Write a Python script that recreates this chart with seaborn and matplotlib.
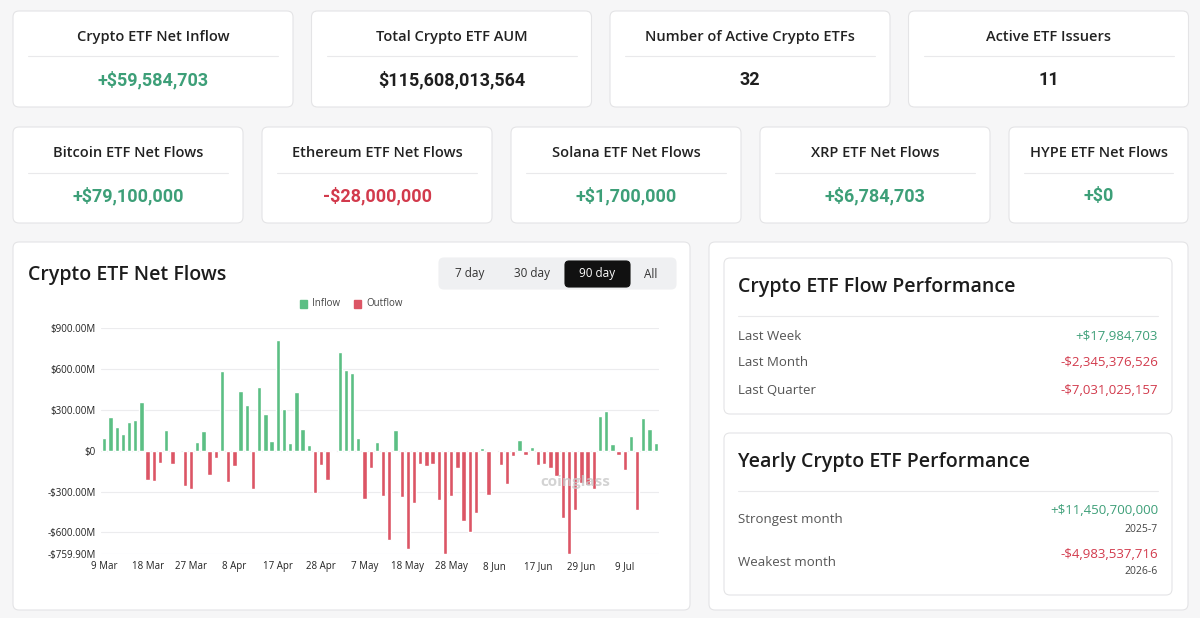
import pandas as pd
import seaborn as sns
import matplotlib.pyplot as plt
from matplotlib.patches import FancyBboxPatch

# daily crypto ETF net flows in $M, 90 trading days (9 Mar - 16 Jul)
net_flow = [94, 249, 169, 121, 211, 227, 356, -218, -225, -92,
            148, -99, 0, -261, -278, 63, 145, -179, -58, 586,
            -232, -111, 436, 336, -278, 469, 271, 68, 808, 307,
            53, 428, 155, 41, -310, -109, -218, -7, 719, 590,
            569, 90, -358, -128, 60, -334, -653, 148, -341, -721,
            -382, -97, -116, -97, -360, -755, -334, -128, -518, -594,
            -460, 22, -327, -7, -109, -244, -39, 81, -35, 23,
            -109, -97, -128, -189, -491, -759.9, -433, -240, -251, -278,
            254, 289, 47, -30, -145, 107, -436, 236, 156, 58]

holidays = ['2026-04-03', '2026-05-25', '2026-06-19', '2026-07-03']
trade_days = [d for d in pd.bdate_range('2026-03-09', '2026-07-16')
              if d.strftime('%Y-%m-%d') not in holidays]
day_labels = [f'{d.day} {d:%b}' for d in trade_days]

y_ticks = [900, 600, 300, 0, -300, -600, -759.9]
y_tick_labels = ['$900.00M', '$600.00M', '$300.00M', '$0',
                 '-$300.00M', '-$600.00M', '-$759.90M']

top_titles = ['Crypto ETF Net Inflow', 'Total Crypto ETF AUM',
              'Number of Active Crypto ETFs', 'Active ETF Issuers']
top_values = ['+$59,584,703', '$115,608,013,564', '32', '11']

asset_titles = ['Bitcoin ETF Net Flows', 'Ethereum ETF Net Flows', 'Solana ETF Net Flows',
                'XRP ETF Net Flows', 'HYPE ETF Net Flows']
asset_values = ['+$79,100,000', '-$28,000,000', '+$1,700,000', '+$6,784,703', '+$0']

period_labels = ['Last Week', 'Last Month', 'Last Quarter']
period_values = ['+$17,984,703', '-$2,345,376,526', '-$7,031,025,157']

yearly_labels = ['Strongest month', 'Weakest month']
yearly_values = ['+$11,450,700,000', '-$4,983,537,716']
yearly_months = ['2025-7', '2026-6']

range_buttons = ['7 day', '30 day', '90 day', 'All']

bar_green = '#5cbf84'
bar_red = '#dc5565'
txt_green = '#3d9f78'
txt_red = '#d23a4c'
dark = '#1f1f1f'


def value_color(s):
    if s.startswith('+'):
        return txt_green
    if s.startswith('-'):
        return txt_red
    return dark


sns.set_theme(style='white')
plt.rcParams['font.family'] = ['Open Sans', 'DejaVu Sans']

fig = plt.figure(figsize=(12, 6.18), dpi=100)
fig.patch.set_facecolor('#f6f6f7')

bg = fig.add_axes([0, 0, 1, 1])
bg.set_xlim(0, 1200)
bg.set_ylim(618, 0)
bg.axis('off')


def card(x0, y0, x1, y1, fc='white', ec='#e4e4e6', r=6, lw=0.8):
    bg.add_patch(FancyBboxPatch((x0, y0), x1 - x0, y1 - y0,
                                boxstyle=f'round,pad=0,rounding_size={r}',
                                fc=fc, ec=ec, lw=lw))


def divider(x0, x1, y):
    bg.plot([x0, x1], [y, y], color='#e9e9eb', lw=0.8)


num_font = ['Roboto', 'DejaVu Sans']

# top row of stat cards
top_w, gap = 280, 18.5
for k, (t, v) in enumerate(zip(top_titles, top_values)):
    x0 = 13 + k * (top_w + gap)
    x1 = x0 + top_w
    card(x0, 11, x1, 107)
    cx = (x0 + x1) / 2
    bg.text(cx, 37, t, ha='center', va='center', fontsize=10.5, color='#222',
            weight='semibold')
    divider(x0 + 15, x1 - 15, 56)
    bg.text(cx, 80, v, ha='center', va='center', fontsize=13, weight='bold',
            color=value_color(v), family=num_font)

# second row: per asset flows
asset_w, gap2 = 230, 19
for k, (t, v) in enumerate(zip(asset_titles, asset_values)):
    x0 = 13 + k * (asset_w + gap2)
    x1 = min(x0 + asset_w, 1188)
    card(x0, 127, x1, 223)
    cx = (x0 + x1) / 2
    bg.text(cx, 153, t, ha='center', va='center', fontsize=10.5, color='#222',
            weight='semibold')
    divider(x0 + 15, x1 - 15, 173)
    bg.text(cx, 196, v, ha='center', va='center', fontsize=13, weight='bold',
            color=value_color(v), family=num_font)

# chart card
card(13, 242, 690, 610)
bg.text(28, 275, 'Crypto ETF Net Flows', ha='left', va='center', fontsize=14,
        color='#1c1c1c', weight='semibold')
card(439, 258, 676, 289, fc='#eff0f2', ec='#eff0f2', r=5)
card(565, 261, 630, 287, fc='#111111', ec='#111111', r=4)
for t, x in zip(range_buttons, [470, 532, 597, 651]):
    bg.text(x, 274, t, ha='center', va='center', fontsize=8.5,
            color='white' if t == '90 day' else '#333')

# legend
bg.add_patch(plt.Rectangle((300, 300), 7, 8, color=bar_green))
bg.text(312, 304, 'Inflow', ha='left', va='center', fontsize=7, color='#444')
bg.add_patch(plt.Rectangle((354, 300), 7, 8, color=bar_red))
bg.text(366, 304, 'Outflow', ha='left', va='center', fontsize=7, color='#444')

# bar chart
df = pd.DataFrame({'day': day_labels, 'flow': net_flow})
df['kind'] = ['Outflow' if f < 0 else 'Inflow' for f in df['flow']]

ax = fig.add_axes([101.2 / 1200, 1 - 554.3 / 618, 557.6 / 1200, 226.6 / 618])
ax.patch.set_alpha(0)
sns.barplot(data=df, x='day', y='flow', hue='kind', order=day_labels,
            palette={'Inflow': bar_green, 'Outflow': bar_red},
            dodge=False, width=0.7, legend=False, ax=ax, saturation=1)
ax.set_xlim(-0.5, len(day_labels) - 0.5)
ax.set_ylim(-759.9, 900)
ax.set_yticks(y_ticks)
ax.set_yticklabels(y_tick_labels)
ax.set_xticks(range(0, len(day_labels), 7))
ax.set_xticklabels(day_labels[::7])
ax.set_xlabel('')
ax.set_ylabel('')
ax.yaxis.grid(True, color='#ececee', lw=0.8)
ax.set_axisbelow(True)
for s in ax.spines.values():
    s.set_visible(False)
ax.tick_params(axis='both', length=0, labelsize=7, colors='#222')
ax.tick_params(axis='y', pad=4)
ax.tick_params(axis='x', pad=5)
ax.text(0.85, 0.32, 'coinglass', transform=ax.transAxes, ha='center', va='center',
        fontsize=11, weight='bold', color='#c9c9c9', alpha=0.8)

# right panel
card(709, 242, 1188, 610)
card(724, 258, 1172, 414)
bg.text(738, 287, 'Crypto ETF Flow Performance', ha='left', va='center',
        fontsize=14, color='#1c1c1c', weight='semibold')
divider(738, 1158, 316)
for k, (lab, v) in enumerate(zip(period_labels, period_values)):
    y = 336 + 27 * k
    bg.text(738, y, lab, ha='left', va='center', fontsize=9.5, color='#555')
    bg.text(1158, y, v, ha='right', va='center', fontsize=9.5, color=value_color(v))

card(724, 433, 1172, 595)
bg.text(738, 462, 'Yearly Crypto ETF Performance', ha='left', va='center',
        fontsize=14, color='#1c1c1c', weight='semibold')
divider(738, 1158, 491)
for k, (lab, v, m) in enumerate(zip(yearly_labels, yearly_values, yearly_months)):
    y = 520 + 43 * k
    bg.text(738, y, lab, ha='left', va='center', fontsize=9.5, color='#555')
    bg.text(1158, y - 9, v, ha='right', va='center', fontsize=9.5, color=value_color(v))
    bg.text(1158, y + 9, m, ha='right', va='center', fontsize=7.5, color='#444')

fig.savefig('out.png', dpi=100, facecolor=fig.get_facecolor())
